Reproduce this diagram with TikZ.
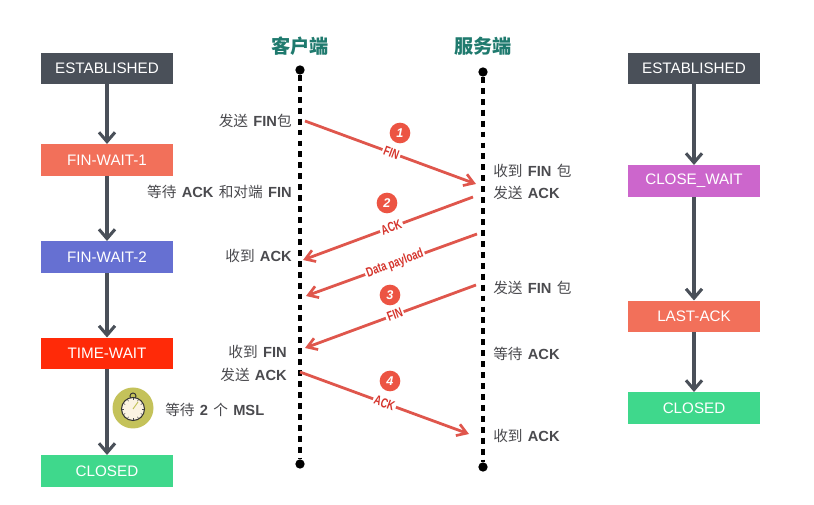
\documentclass[tikz,border=0pt]{standalone}
\usepackage{fontspec}
\setmainfont{Liberation Sans}
\newfontfamily\cjkfont{Noto Sans CJK SC}
\newfontfamily\condfont[FakeStretch=0.72]{Liberation Sans}
\usetikzlibrary{arrows.meta}
\definecolor{slategray}{HTML}{4A5059}
\definecolor{salmonred}{HTML}{F2705A}
\definecolor{periwinkle}{HTML}{6670D2}
\definecolor{pureRed}{HTML}{FF2A08}
\definecolor{mintgreen}{HTML}{3FD88C}
\definecolor{orchidpink}{HTML}{CC66CC}
\definecolor{arrowred}{HTML}{DF564C}
\definecolor{badgered}{HTML}{EC5443}
\definecolor{labelred}{HTML}{D5342C}
\definecolor{tealhead}{HTML}{1F7A6E}
\definecolor{olivedisc}{HTML}{C4C25A}
\definecolor{facecream}{HTML}{FBF3E2}
\definecolor{textgray}{HTML}{4A4A4E}
\tikzset{
  statebox/.style={draw=none,minimum width=99pt,minimum height=23.6pt,inner sep=0pt,text=white,font=\fontsize{11.4}{13}\selectfont},
  flow/.style={draw=slategray,line width=2.3pt,-{Straight Barb[length=7pt,width=12pt,line width=2.3pt]}},
  lifeline/.style={draw=black,line width=2.3pt,dash pattern=on 4.4pt off 3.8pt},
  enddot/.style={circle,fill=black,inner sep=0pt,minimum size=7pt},
  msg/.style={draw=arrowred,line width=2.1pt,-{Straight Barb[length=7pt,width=9pt,line width=2pt]}},
  msglabel/.style={fill=white,inner sep=1.2pt,sloped,text=labelred,font=\condfont\bfseries\fontsize{10}{11}\selectfont},
  badge/.style={circle,fill=badgered,inner sep=0pt,minimum size=15.5pt,text=white,font=\bfseries\itshape\fontsize{9.5}{10}\selectfont},
  head/.style={text=tealhead,font=\cjkfont\bfseries\fontsize{14.4}{16}\selectfont},
  lefttext/.style={anchor=east,inner sep=0pt,text=textgray,font=\fontsize{11}{13}\selectfont},
  righttext/.style={anchor=west,inner sep=0pt,text=textgray,font=\fontsize{11}{13}\selectfont},
}
\newcommand{\zh}[1]{{\cjkfont\mdseries #1}}
\newcommand{\gap}{\hspace{0.36em}}
\begin{document}
\begin{tikzpicture}[x=0.75pt,y=-0.75pt]
  \useasboundingbox (0,0) rectangle (814,505);
  % left column
  \node[statebox,fill=slategray](estc)at(107,68.5){ESTABLISHED};
  \node[statebox,fill=salmonred](wait1)at(107,160){FIN-WAIT-1};
  \node[statebox,fill=periwinkle](wait2)at(107,257){FIN-WAIT-2};
  \node[statebox,fill=pureRed](timew)at(107,353.5){TIME-WAIT};
  \node[statebox,fill=mintgreen](closedc)at(107,471){CLOSED};
  \draw[flow] (estc)--(wait1);
  \draw[flow] (wait1)--(wait2);
  \draw[flow] (wait2)--(timew);
  \draw[flow] (timew)--(closedc);
  % right column
  \node[statebox,fill=slategray](ests)at(694,68.5){ESTABLISHED};
  \node[statebox,fill=orchidpink](closew)at(694,181){CLOSE\_WAIT};
  \node[statebox,fill=salmonred](lastack)at(694,316.5){LAST-ACK};
  \node[statebox,fill=mintgreen](closeds)at(694,408){CLOSED};
  \draw[flow] (ests)--(closew);
  \draw[flow] (closew)--(lastack);
  \draw[flow] (lastack)--(closeds);
  % life lines
  \node[head](client)at(300,46){客户端};
  \node[head](server)at(483,46){服务端};
  \node[enddot](ctop)at(300,70){};
  \node[enddot](cbot)at(300,464){};
  \node[enddot](stop)at(483,72){};
  \node[enddot](sbot)at(483,467){};
  \draw[lifeline] (ctop)--(cbot);
  \draw[lifeline] (stop)--(sbot);
  % messages
  \coordinate (m1a) at (305,121);
  \coordinate (m1b) at (476,184);
  \coordinate (m2a) at (473,197);
  \coordinate (m2b) at (303,260);
  \coordinate (m3a) at (477,234);
  \coordinate (m3b) at (306,296);
  \coordinate (m4a) at (476,285);
  \coordinate (m4b) at (305,348);
  \coordinate (m5a) at (300,372);
  \coordinate (m5b) at (469,434);
  \draw[msg] (m1a)--(m1b) node[msglabel,pos=.505](lfin1){FIN};
  \draw[msg] (m2a)--(m2b) node[msglabel,pos=.48](lack1){ACK};
  \draw[msg] (m3a)--(m3b) node[msglabel,pos=.48](ldata){Data payload};
  \draw[msg] (m4a)--(m4b) node[msglabel,pos=.475](lfin2){FIN};
  \draw[msg] (m5a)--(m5b) node[msglabel,pos=.5](lack2){ACK};
  \node[badge](b1)at(400,133){1};
  \node[badge](b2)at(387,203){2};
  \node[badge](b3)at(390,295){3};
  \node[badge](b4)at(390,381){4};
  % texts
  \node[lefttext](t1)at(292,121){\zh{发送}\gap\bfseries FIN\zh{包}};
  \node[lefttext](t2)at(292,192){\zh{等待}\gap\bfseries ACK\gap\zh{和对端}\gap FIN};
  \node[lefttext](t3)at(292,256){\zh{收到}\gap\bfseries ACK};
  \node[lefttext](t4)at(287,352){\zh{收到}\gap\bfseries FIN};
  \node[lefttext](t5)at(287,375){\zh{发送}\gap\bfseries ACK};
  \node[righttext](t6)at(493,171){\zh{收到}\gap\bfseries FIN\gap\zh{包}};
  \node[righttext](t7)at(493,193){\zh{发送}\gap\bfseries ACK};
  \node[righttext](t8)at(493,288){\zh{发送}\gap\bfseries FIN\gap\zh{包}};
  \node[righttext](t9)at(493,354){\zh{等待}\gap\bfseries ACK};
  \node[righttext](t10)at(493,436){\zh{收到}\gap\bfseries ACK};
  \node[righttext](t11)at(165,410){\zh{等待}\gap\bfseries 2\gap\zh{个}\gap MSL};
  % stopwatch
  \fill[olivedisc] (133,408) circle (20.5);
  \draw[black!80,line width=.7pt] (133,396) circle (3);
  \draw[black!80,line width=.8pt,fill=facecream] (133,409) circle (11.5);
  \foreach \a in {0,30,...,330}
    \draw[black!70,line width=.4pt] (133,409)++(\a:11)--++(\a:-2);
  \draw[olivedisc,line width=.7pt] (133,409)--(138,402);
\end{tikzpicture}
\end{document}
